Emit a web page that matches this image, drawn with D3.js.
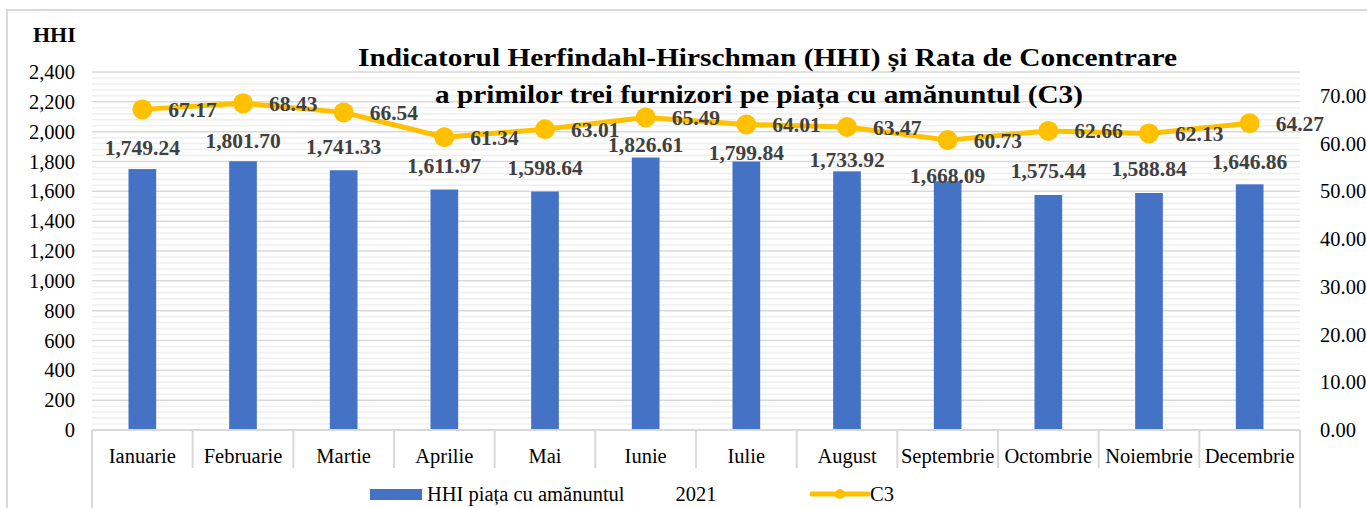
<!DOCTYPE html>
<html><head><meta charset="utf-8">
<script src="https://cdn.jsdelivr.net/npm/d3@7"></script>
<style>
html,body{margin:0;padding:0;background:#fff;}
svg{display:block;}
svg text{font-family:"Liberation Serif","Times New Roman",serif !important;}
</style></head>
<body>
<svg id="chart" width="1367" height="508"></svg>
<script>
// ---- data ----
const months = ["Ianuarie","Februarie","Martie","Aprilie","Mai","Iunie","Iulie","August","Septembrie","Octombrie","Noiembrie","Decembrie"];
const hhi = [1749.24,1801.70,1741.33,1611.97,1598.64,1826.61,1799.84,1733.92,1668.09,1575.44,1588.84,1646.86];
const c3 = [67.17,68.43,66.54,61.34,63.01,65.49,64.01,63.47,60.73,62.66,62.13,64.27];
const leftTicks = [0,200,400,600,800,1000,1200,1400,1600,1800,2000,2200,2400];
const rightTicks = [0,10,20,30,40,50,60,70];
const yearLabel = "2021";
const titleLines = ["Indicatorul Herfindahl-Hirschman (HHI) și Rata de Concentrare","a primilor trei furnizori pe piața cu amănuntul (C3)"];
const seriesNames = ["HHI piața cu amănuntul","C3"];

// ---- layout (label placement) ----
const barLabelLift = [22,21,24,24,24,13,9,12,6,25,25,23];

const svg = d3.select("#chart");
const L = 92, R = 1300, T = 72, B = 430;
const gridMajor = "#d9d9d9", gridMinor = "#efefef";

// frame
svg.append("path").attr("d","M7,510 V10 H1370").attr("fill","none").attr("stroke","#d9d9d9").attr("stroke-width",2);

const x = d3.scaleBand().domain(months).range([L,R]).paddingInner(0.725).paddingOuter(0.3625);
const xb = d3.scaleBand().domain(months).range([L,R]);
const y = d3.scaleLinear().domain([0,2400]).range([B,T]);
const y2 = d3.scaleLinear().domain([0,75]).range([B,T]);

// minor gridlines
const minor = d3.range(40,2400,40).filter(v=>v%200!==0);
svg.append("g").selectAll("line").data(minor).join("line")
  .attr("x1",L).attr("x2",R).attr("y1",d=>y(d)).attr("y2",d=>y(d))
  .attr("stroke",gridMinor).attr("stroke-width",1.5);
// major gridlines
svg.append("g").selectAll("line").data(leftTicks.filter(v=>v>0)).join("line")
  .attr("x1",L).attr("x2",R).attr("y1",d=>y(d)).attr("y2",d=>y(d))
  .attr("stroke",gridMajor).attr("stroke-width",1.5);

// left axis
const ax = svg.append("g").attr("transform",`translate(${L-17},0)`)
  .call(d3.axisLeft(y).tickValues(leftTicks).tickSize(0).tickPadding(0).tickFormat(d3.format(",")));
ax.attr("font-family",null).attr("font-size",null);
ax.select(".domain").remove();
ax.selectAll("text").attr("font-size",20.5).attr("fill","#000");

// right axis
const ax2 = svg.append("g").attr("transform",`translate(1320,0)`)
  .call(d3.axisRight(y2).tickValues(rightTicks).tickSize(0).tickPadding(0).tickFormat(d3.format(".2f")));
ax2.attr("font-family",null).attr("font-size",null);
ax2.select(".domain").remove();
ax2.selectAll("text").attr("font-size",20.5).attr("fill","#000");

// HHI label
svg.append("text").attr("x",33).attr("y",42).attr("font-size",22).attr("font-weight","bold").text("HHI");

// bars
svg.append("g").selectAll("rect").data(hhi).join("rect")
  .attr("x",(d,i)=>x(months[i])).attr("width",x.bandwidth())
  .attr("y",d=>y(d)).attr("height",d=>B-y(d)).attr("fill","#4472C4");

// category axis lines
svg.append("line").attr("x1",L).attr("x2",R).attr("y1",B).attr("y2",B).attr("stroke",gridMajor).attr("stroke-width",2);
const seps = months.map((m,i)=>i).slice(1);
svg.append("g").selectAll("line").data(seps).join("line")
  .attr("x1",i=>xb(months[i])).attr("x2",i=>xb(months[i])).attr("y1",B).attr("y2",468)
  .attr("stroke",gridMajor).attr("stroke-width",2);
svg.append("line").attr("x1",L).attr("x2",L).attr("y1",B).attr("y2",512).attr("stroke",gridMajor).attr("stroke-width",2);
svg.append("line").attr("x1",R).attr("x2",R).attr("y1",B).attr("y2",512).attr("stroke",gridMajor).attr("stroke-width",2);

// category labels
svg.append("g").selectAll("text").data(months).join("text")
  .attr("x",d=>xb(d)+xb.bandwidth()/2).attr("y",463).attr("text-anchor","middle")
  .attr("font-size",20.5).text(d=>d);
svg.append("text").attr("x",(L+R)/2).attr("y",501).attr("text-anchor","middle").attr("font-size",20.5).text(yearLabel);

// line
const cx = i=>xb(months[i])+xb.bandwidth()/2;
svg.append("path").datum(c3)
  .attr("d",d3.line().x((d,i)=>cx(i)).y(d=>y2(d)))
  .attr("fill","none").attr("stroke","#FFC000").attr("stroke-width",5).attr("stroke-linejoin","round");
svg.append("g").selectAll("circle").data(c3).join("circle")
  .attr("cx",(d,i)=>cx(i)).attr("cy",d=>y2(d)).attr("r",10).attr("fill","#FFC000");

// bar labels
svg.append("g").selectAll("text").data(hhi).join("text")
  .attr("x",(d,i)=>cx(i)).attr("y",(d,i)=>y(d)-barLabelLift[i]).attr("dy","0.35em")
  .attr("text-anchor","middle").attr("font-size",21.5).attr("font-weight","bold").attr("fill","#404040")
  .text(d=>d3.format(",.2f")(d));

// line labels
svg.append("g").selectAll("text").data(c3).join("text")
  .attr("x",(d,i)=>cx(i)+26).attr("y",d=>y2(d)).attr("dy","0.35em")
  .attr("font-size",21.5).attr("font-weight","bold").attr("fill","#404040")
  .text(d=>d3.format(".2f")(d));

// title
svg.append("text").attr("x",358).attr("y",66).attr("font-size",26).attr("font-weight","bold")
  .attr("textLength",819).attr("lengthAdjust","spacingAndGlyphs").text(titleLines[0]);
svg.append("text").attr("x",435).attr("y",103).attr("font-size",26).attr("font-weight","bold")
  .attr("textLength",648).attr("lengthAdjust","spacingAndGlyphs").text(titleLines[1]);

// legend
svg.append("rect").attr("x",370).attr("y",489).attr("width",52).attr("height",11).attr("fill","#4472C4");
svg.append("text").attr("x",427).attr("y",501).attr("font-size",20.5).text(seriesNames[0]);
svg.append("line").attr("x1",812).attr("x2",868).attr("y1",494).attr("y2",494).attr("stroke","#FFC000").attr("stroke-width",5).attr("stroke-linecap","round");
svg.append("circle").attr("cx",840).attr("cy",494).attr("r",5).attr("fill","#FFC000");
svg.append("text").attr("x",870).attr("y",501).attr("font-size",20.5).text(seriesNames[1]);
</script>
</body></html>
